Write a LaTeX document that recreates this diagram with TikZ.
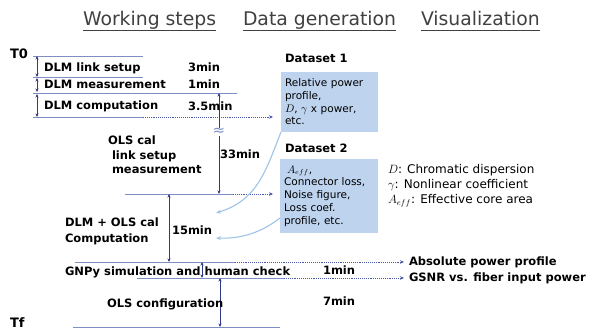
\documentclass[tikz,border=0pt]{standalone}
\usepackage{fontspec}
\setmainfont{DejaVu Sans}
\usetikzlibrary{arrows.meta,calc}
\definecolor{hline}{HTML}{7F8FC4}
\definecolor{varr}{HTML}{2E3A87}
\definecolor{dotc}{HTML}{4A5AA8}
\definecolor{boxfill}{HTML}{BDD3EE}
\definecolor{curvec}{HTML}{9DC3E6}
\definecolor{headc}{HTML}{404040}
\begin{document}
\begin{tikzpicture}[x=1pt,y=-1pt,
  every node/.style={inner sep=0pt, outer sep=0pt},
  lbl/.style={anchor=base west, font=\fontsize{11.5}{13}\selectfont\bfseries},
  tlbl/.style={anchor=base west, font=\fontsize{13}{15}\selectfont\bfseries},
  hdr/.style={anchor=base west, font=\fontsize{18.8}{20}\selectfont, text=headc},
  uline/.style={draw=headc, line width=0.8pt},
  rule/.style={draw=hline, line width=0.9pt},
  dotarr/.style={draw=dotc, densely dotted, line width=0.9pt, -{Stealth[length=4pt,width=3.5pt]}},
  vdur/.style={draw=varr, line width=0.7pt, {Stealth[length=3.5pt,width=3pt]}-{Stealth[length=3.5pt,width=3pt]}},
  databox/.style={fill=boxfill, anchor=north west, align=left, inner xsep=4pt, font=\fontsize{10.5}{12.7}\selectfont},
  curvearr/.style={draw=curvec, line width=1.1pt, -{Stealth[length=5pt,width=4pt]}},
  legend/.style={anchor=base west, font=\fontsize{12}{14}\selectfont}
]
\useasboundingbox (0,0) rectangle (590,331);

% headers
\node[hdr] (h1) at (83,26) {Working steps};
\node[hdr] (h2) at (243,26) {Data generation};
\node[hdr] (h3) at (421,26) {Visualization};
\foreach \h in {h1,h2,h3}{
  \draw[uline] ([yshift=-4pt]\h.base west) -- ([yshift=-4pt]\h.base east);
}

% T0 / Tf
\node[tlbl] (t0) at (10,59) {T0};
\node[tlbl] (tf) at (10,328) {Tf};

% coordinates of rules
\coordinate (L1a) at (33,56);  \coordinate (L1b) at (143,56);
\coordinate (L2a) at (33,77);  \coordinate (L2b) at (143,77);
\coordinate (L3a) at (33,93);  \coordinate (L3b) at (237,93);
\coordinate (L4a) at (33,117); \coordinate (L4b) at (143,117); \coordinate (L4c) at (273,117);
\coordinate (L5a) at (125,194); \coordinate (L5b) at (233,194); \coordinate (L5c) at (273,194);
\coordinate (L6a) at (75,262); \coordinate (L6b) at (235,262); \coordinate (L6c) at (404,262);
\coordinate (L7a) at (137,278); \coordinate (L7b) at (284,278); \coordinate (L7c) at (404,278);
\coordinate (L8a) at (73,327); \coordinate (L8b) at (280,327);

\draw[rule] (L1a) -- (L1b);
\draw[rule] (L2a) -- (L2b);
\draw[rule] (L3a) -- (L3b);
\draw[rule] (L4a) -- (L4b);
\draw[dotarr] (L4b) -- (L4c);
\draw[rule] (L5a) -- (L5b);
\draw[dotarr] (L5b) -- (L5c);
\draw[rule] (L6a) -- (L6b);
\draw[dotarr] (L6b) -- (L6c);
\draw[rule] (L7a) -- (L7b);
\draw[dotarr] (L7b) -- (L7c);
\draw[rule] (L8a) -- (L8b);

% duration arrows
\coordinate (v1t) at (37,56);  \coordinate (v1b) at (37,77);
\coordinate (v2t) at (37,78);  \coordinate (v2b) at (37,92);
\coordinate (v3t) at (37,94);  \coordinate (v3b) at (37,117);
\draw[vdur] (v1t) -- (v1b);
\draw[vdur] (v2t) -- (v2b);
\draw[vdur] (v3t) -- (v3b);
\coordinate (v4t) at (219,93);  \coordinate (v4b) at (219,194);
\draw[vdur] (v4t) -- (v4b);
\node[fill=white, text=hline, font=\fontsize{15}{15}\selectfont, inner sep=0.5pt] (brk) at (219,132) {≈};
\coordinate (v5t) at (169,194);  \coordinate (v5b) at (169,262);
\draw[vdur] (v5t) -- (v5b);
\coordinate (v6t) at (202,262);  \coordinate (v6b) at (202,278);
\draw[vdur] (v6t) -- (v6b);
\coordinate (v7t) at (220,278);  \coordinate (v7b) at (220,327);
\draw[vdur] (v7t) -- (v7b);

% step labels
\node[lbl] (s1) at (44,72) {DLM link setup};
\node[lbl] (d1) at (188,72) {3min};
\node[lbl] (s2) at (44,89) {DLM measurement};
\node[lbl] (d2) at (188,89) {1min};
\node[lbl] (s3) at (44,110) {DLM computation};
\node[lbl] (d3) at (188,111) {3.5min};
\node[lbl] (s4a) at (108,145) {OLS cal};
\node[lbl] (s4b) at (112,160) {link setup};
\node[lbl] (s4c) at (112,174) {measurement};
\node[lbl] (d4) at (220,159) {33min};
\node[lbl] (s5a) at (65,227) {DLM + OLS cal};
\node[lbl] (s5b) at (65,243) {Computation};
\node[lbl] (d5) at (172,235) {15min};
\node[lbl] (s6) at (65,276) {GNPy simulation and human check};
\node[lbl] (d6) at (323,275) {1min};
\node[lbl] (s7) at (107,308) {OLS configuration};
\node[lbl] (d7) at (323,306) {7min};

% datasets
\node[lbl] (ds1t) at (285,63) {Dataset 1};
\node[databox, minimum width=97pt, minimum height=60pt, text width=89pt] (ds1) at (281,72)
  {Relative power\\profile,\\$D$, $\gamma$ x power,\\etc.};
\node[lbl] (ds2t) at (285,153) {Dataset 2};
\node[databox, minimum width=98pt, minimum height=74pt, text width=90pt] (ds2) at (280,159)
  {\hspace*{3pt}$A_{eff}$,\\Connector loss,\\Noise figure,\\Loss coef.\\profile, etc.};

% legend
\node[legend] (lg1) at (388,174) {$D$: Chromatic dispersion};
\node[legend] (lg2) at (388,189) {$\gamma$: Nonlinear coefficient};
\node[legend] (lg3) at (388,204) {$A_{eff}$: Effective core area};

% visualization outputs
\node[lbl] (o1) at (409,266) {Absolute power profile};
\node[lbl] (o2) at (409,282) {GSNR vs. fiber input power};

% curved arrows
\coordinate (c1e) at (216,213);
\coordinate (c2e) at (216,238);
\draw[curvearr] (ds1.south west) .. controls (266,170) and (258,200) .. (c1e);
\draw[curvearr] ($(ds2.west)+(0,22)$) .. controls (262,232) and (242,239) .. (c2e);
\end{tikzpicture}
\end{document}
